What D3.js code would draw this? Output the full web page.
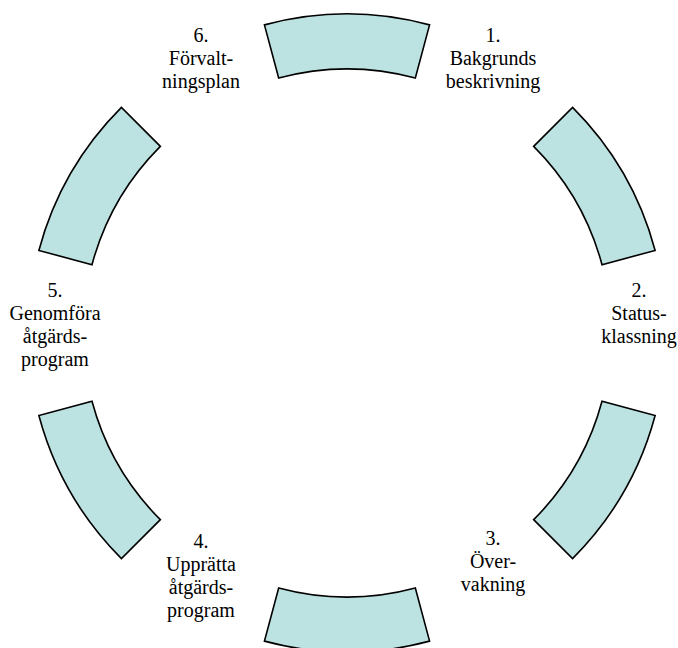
<!DOCTYPE html>
<html>
<head>
<meta charset="utf-8">
<script src="https://cdn.jsdelivr.net/npm/d3@7"></script>
</head>
<body style="margin:0">
<svg id="chart" width="678" height="648"></svg>
<script>
// ---- data ----
const stepNumbers = ["1.", "2.", "3.", "4.", "5.", "6."];
const stepLines = [
  ["Bakgrunds", "beskrivning"],
  ["Status-", "klassning"],
  ["Över-", "vakning"],
  ["Upprätta", "åtgärds-", "program"],
  ["Genomföra", "åtgärds-", "program"],
  ["Förvalt-", "ningsplan"]
];
const segmentIndex = [0, 1, 2, 3, 4, 5];

// ---- layout ----
const cx = 347, cy = 333;
const innerR = 264, outerR = 319;
const segHalfWidthDeg = 15;
const labelRadiusX = 292;
const labelFirstBaseline = [42, 297, 545, 548, 297, 42];
const lineHeight = 23;

const svg = d3.select("#chart");
const g = svg.append("g").attr("transform", `translate(${cx},${cy})`);

const angle = d3.scaleLinear().domain([0, 6]).range([0, 2 * Math.PI]);
const halfW = segHalfWidthDeg * Math.PI / 180;

const arc = d3.arc()
  .innerRadius(innerR)
  .outerRadius(outerR)
  .startAngle(d => angle(d) - halfW)
  .endAngle(d => angle(d) + halfW);

g.selectAll("path")
  .data(segmentIndex)
  .join("path")
  .attr("d", arc)
  .attr("fill", "#bde2e2")
  .attr("stroke", "#000")
  .attr("stroke-width", 1.6);

// labels: appended one by one (same way as the serif test lines that rendered correctly)
stepNumbers.forEach((n, i) => {
  const lines = [n].concat(stepLines[i]);
  const center = cx + labelRadiusX * Math.sin(angle(i + 0.5));
  lines.forEach((line, k) => {
    const t = svg.append("text")
      .attr("y", labelFirstBaseline[i] + k * lineHeight)
      .style("font-family", '"Liberation Serif"')
      .style("font-size", "20px")
      .text(line);
    t.attr("x", center - t.node().getComputedTextLength() / 2);
  });
});
</script>
</body>
</html>
